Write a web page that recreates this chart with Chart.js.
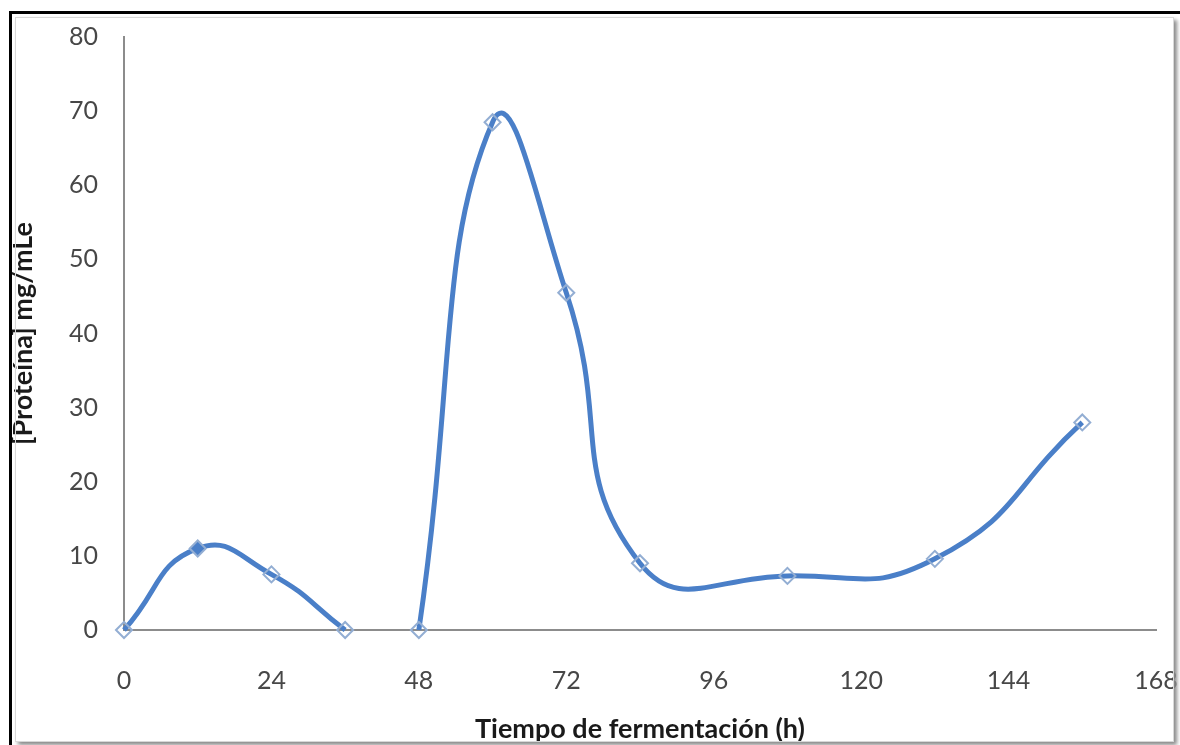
<!DOCTYPE html>
<html>
<head>
<meta charset="utf-8">
<script src="https://cdn.jsdelivr.net/npm/chart.js@4.4.1/dist/chart.umd.min.js"></script>
<style>
  html, body { margin: 0; padding: 0; background: #fff; width: 1180px; height: 745px; overflow: hidden; }
  #c { position: absolute; left: 0; top: 0; }
  #outer { position: absolute; left: 9px; top: 11px; width: 1180px; height: 740px;
           border-top: 3px solid #000; border-left: 3px solid #000; pointer-events: none; }
  #inner { position: absolute; left: 15px; top: 17px; width: 1157px; height: 723px;
           border: 1px solid #d8d8d8; box-shadow: 3px 3px 4px #8a8a8a; pointer-events: none; }
</style>
</head>
<body>
<canvas id="c" width="1180" height="745"></canvas>
<div id="outer"></div>
<div id="inner"></div>
<script>
const hours   = [0, 12, 24, 36, 42, 48, 60, 72, 84, 108, 132, 156];
const protein = [0, 11, 7.5, 0, null, 0, 68.5, 45.5, 9, 7.3, 9.6, 28];
const xTicks  = [0, 24, 48, 72, 96, 120, 144, 168];
const yTicks  = [0, 10, 20, 30, 40, 50, 60, 70, 80];
const xTitle  = 'Tiempo de fermentación (h)';
const yTitle  = '[Proteína] mg/mLe';

const points = hours.map((h, i) => ({ x: h, y: protein[i] }));
const fills = hours.map(h => h === 12 ? '#4a7fc8' : 'rgba(255,255,255,0)');

new Chart(document.getElementById('c'), {
  type: 'line',
  data: {
    datasets: [{
      data: points,
      borderColor: '#4a7fc8',
      borderWidth: 5,
      tension: 0.5,
      spanGaps: false,
      pointStyle: 'rectRot',
      pointRadius: 8,
      pointBorderWidth: 2,
      pointBorderColor: '#93aed3',
      pointBackgroundColor: fills,
      clip: false
    }]
  },
  options: {
    responsive: false,
    animation: false,
    layout: { padding: { left: 0, top: 37, right: 24, bottom: 0 } },
    plugins: { legend: { display: false }, tooltip: { enabled: false } },
    scales: {
      x: {
        type: 'linear',
        min: 0, max: 168,
        afterBuildTicks: s => { s.ticks = xTicks.map(v => ({ value: v })); },
        afterFit: s => { s.height = 115; s.paddingLeft = 0; s.paddingRight = 0; },
        grid: { display: false, drawTicks: false },
        border: { display: true, color: '#8c8c8c', width: 2 },
        ticks: { padding: 36, color: '#474747', font: { family: 'Lato', size: 25 } },
        title: { display: true, text: xTitle, color: '#1a1a1a',
                 font: { family: 'Lato', size: 27, weight: 'bold' }, padding: { top: 0, bottom: 0 } }
      },
      y: {
        type: 'linear',
        min: 0, max: 80,
        afterBuildTicks: s => { s.ticks = yTicks.map(v => ({ value: v })); },
        afterFit: s => { s.width = 124; s.paddingTop = 0; s.paddingBottom = 0; },
        grid: { display: false, drawTicks: false },
        border: { display: true, color: '#8c8c8c', width: 2 },
        ticks: { padding: 26, color: '#474747', font: { family: 'Lato', size: 25 } },
        title: { display: true, text: yTitle, color: '#1a1a1a',
                 font: { family: 'Lato', size: 27, weight: 'bold' }, padding: { top: 7, bottom: 0 } }
      }
    }
  }
});
</script>
</body>
</html>
